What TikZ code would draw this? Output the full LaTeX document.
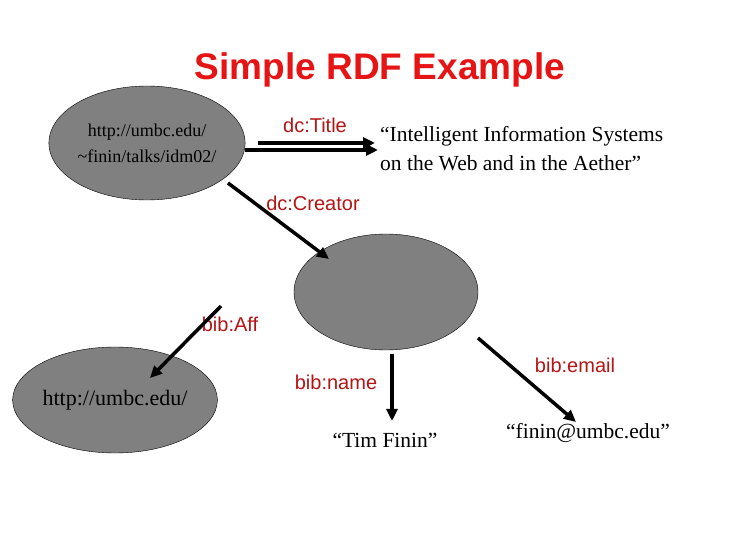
\documentclass[tikz,border=0pt]{standalone}
\usepackage{fontspec}
\setmainfont{Liberation Serif}
\setsansfont{Liberation Sans}
\usetikzlibrary{arrows.meta,shapes.geometric}
\definecolor{lab}{RGB}{180,20,20}
\definecolor{ttl}{RGB}{230,20,20}
\begin{document}
\begin{tikzpicture}[x=1pt,y=-1pt,
 res/.style={draw=black,fill=black!50,ellipse,inner sep=0pt},
 lbl/.style={text=lab,font=\sffamily\fontsize{20}{22}\selectfont,inner sep=0pt},
 lit/.style={font=\fontsize{21.5}{29}\selectfont,inner sep=0pt,align=left},
 arr/.style={line width=3.5pt,-{Triangle[length=12pt,width=11pt]}}]
\useasboundingbox (0,0) rectangle (756,540);
\node[font=\sffamily\bfseries\fontsize{37}{40}\selectfont,text=ttl] (t) at (380,70) {Simple RDF Example};
\node[res,minimum width=190pt,minimum height=114pt,font=\fontsize{18}{26}\selectfont,align=center] (a) at (147,143) {http://umbc.edu/\\\textasciitilde finin/talks/idm02/};
\node[res,minimum width=184pt,minimum height=116pt] (b) at (386,292) {};
\node[res,minimum width=192pt,minimum height=106pt,font=\fontsize{22}{24}\selectfont] (c) at (115,400) {http://umbc.edu/};
\node[lit,anchor=west] (d) at (380,149) {“Intelligent Information Systems\\on the Web and in the Aether”};
\node[lit] (e) at (385,440) {“Tim Finin”};
\node[lit] (f) at (588,433) {“finin@umbc.edu”};
\node[lbl] at (315,125) {dc:Title};
\node[lbl] at (313,203) {dc:Creator};
\node[lbl] at (230,324) {bib:Aff};
\node[lbl] at (336,382) {bib:name};
\node[lbl] at (575,365) {bib:email};
\coordinate (t1) at (258,143); \coordinate (t2) at (375,143);
\coordinate (u1) at (245,150); \coordinate (u2) at (378,150);
\draw[arr] (t1) -- (t2);
\draw[arr] (u1) -- (u2);
\coordinate (c1) at (228,183); \coordinate (c2) at (329,259);
\draw[arr] (c1) -- (c2);
\coordinate (f1) at (221,306); \coordinate (f2) at (150,378);
\draw[arr] (f1) -- (f2);
\coordinate (n1) at (392,354); \coordinate (n2) at (392,421);
\draw[arr] (n1) -- (n2);
\coordinate (m1) at (478,338); \coordinate (m2) at (576,422);
\draw[arr] (m1) -- (m2);
\end{tikzpicture}
\end{document}
